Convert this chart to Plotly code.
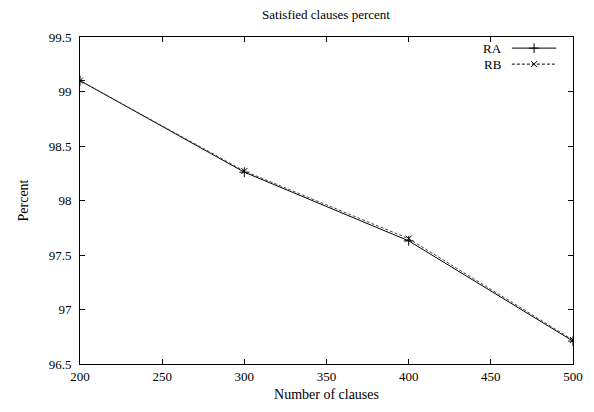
import plotly.graph_objects as go

clauses = [200, 300, 400, 500]
ra_values = [99.10, 98.26, 97.63, 96.71]
rb_values = [99.10, 98.27, 97.65, 96.72]
x_ticks = [200, 250, 300, 350, 400, 450, 500]
y_ticks = [96.5, 97, 97.5, 98, 98.5, 99, 99.5]
y_tick_labels = ["96.5", "97", "97.5", "98", "98.5", "99", "99.5"]
series_names = ["RA", "RB"]

FONT = "Liberation Serif"

fig = go.Figure()
fig.add_trace(go.Scatter(
    x=clauses, y=ra_values, mode="lines+markers", name=series_names[0],
    line=dict(color="black", width=1),
    marker=dict(symbol="cross-thin", size=7, line=dict(color="black", width=1)),
    showlegend=False,
))
fig.add_trace(go.Scatter(
    x=clauses, y=rb_values, mode="lines+markers", name=series_names[1],
    line=dict(color="#444444", width=1, dash="3px,2px"),
    marker=dict(symbol="x-thin", size=6, line=dict(color="black", width=1)),
    showlegend=False,
))

# legend keys drawn on an overlay axis in [0,1] coordinates
legend_y = [0.966, 0.917]
fig.add_trace(go.Scatter(
    x=[0.876, 0.966], y=[legend_y[0]] * 2, xaxis="x2", yaxis="y2",
    mode="lines", line=dict(color="black", width=1), showlegend=False, hoverinfo="skip"))
fig.add_trace(go.Scatter(
    x=[0.921], y=[legend_y[0]], xaxis="x2", yaxis="y2", mode="markers",
    marker=dict(symbol="cross-thin", size=7, line=dict(color="black", width=1)),
    showlegend=False, hoverinfo="skip"))
fig.add_trace(go.Scatter(
    x=[0.876, 0.966], y=[legend_y[1]] * 2, xaxis="x2", yaxis="y2",
    mode="lines", line=dict(color="black", width=1, dash="3px,2px"), showlegend=False, hoverinfo="skip"))
fig.add_trace(go.Scatter(
    x=[0.921], y=[legend_y[1]], xaxis="x2", yaxis="y2", mode="markers",
    marker=dict(symbol="x-thin", size=6, line=dict(color="black", width=1)),
    showlegend=False, hoverinfo="skip"))
for name, ly in zip(series_names, legend_y):
    fig.add_annotation(x=0.86, y=ly, xref="x2", yref="y2", text=name, showarrow=False,
                       xanchor="right", yanchor="middle", font=dict(family=FONT, size=13, color="black"))

axis_common = dict(
    showgrid=False, zeroline=False, showline=True, linecolor="black", linewidth=1,
    mirror="allticks", ticks="inside", ticklen=5, tickcolor="black", tickwidth=1,
    tickfont=dict(family=FONT, size=13, color="black"),
)

fig.update_layout(
    width=586, height=404,
    margin=dict(l=72, r=21, t=29, b=48),
    paper_bgcolor="white", plot_bgcolor="white",
    title=dict(text="Satisfied clauses percent", x=0.5427, xanchor="center", y=0.983, yanchor="middle",
               font=dict(family=FONT, size=13, color="black")),
    xaxis=dict(range=[200, 500], tickvals=x_ticks, ticktext=[str(v) for v in x_ticks],
               title=dict(text="Number of clauses", font=dict(family=FONT, size=14, color="black"), standoff=6),
               **axis_common),
    yaxis=dict(range=[96.5, 99.5], tickvals=y_ticks, ticktext=y_tick_labels, ticklabelstandoff=5,
               title=dict(text="Percent", font=dict(family=FONT, size=14, color="black"), standoff=16),
               **axis_common),
    xaxis2=dict(range=[0, 1], overlaying="x", visible=False, fixedrange=True),
    yaxis2=dict(range=[0, 1], overlaying="y", visible=False, fixedrange=True),
)

fig.write_html("out.html")
